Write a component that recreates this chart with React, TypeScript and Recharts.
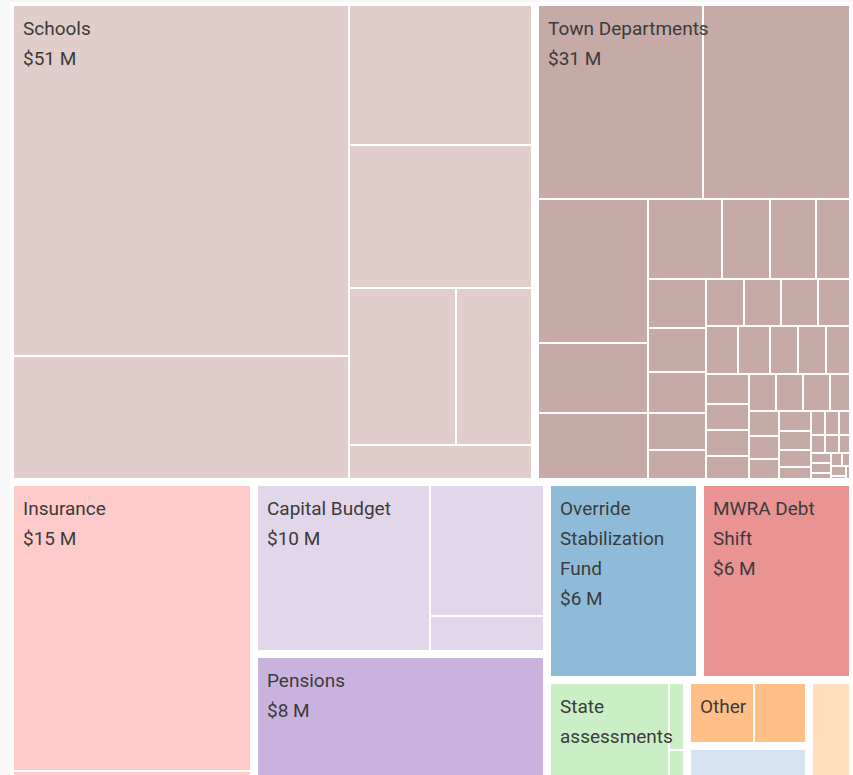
import { Treemap } from 'recharts'

// spending groups ($M), leaves, largest first
const schoolsItems = [24.3, 8.6, 5.4, 5.4, 3.4, 2.5, 1.4]
const townItems = [
  6.7, 6.0, 3.3, 1.6, 1.55, 1.2, 0.78, 0.74, 0.6, 0.58, 0.52, 0.48, 0.43, 0.38, 0.36, 0.35, 0.35, 0.33,
  0.31, 0.31, 0.27, 0.27, 0.26, 0.26, 0.23, 0.23, 0.22, 0.2, 0.2, 0.2, 0.17, 0.15, 0.14, 0.14, 0.13,
  0.12, 0.11, 0.1, 0.07, 0.07, 0.06, 0.05, 0.05, 0.05, 0.04, 0.04, 0.04, 0.03, 0.03, 0.03, 0.02, 0.02, 0.02,
]
const insuranceItems = [14, 1]
const capitalItems = [6.0, 3.1, 0.9]
const pensionsItems = [8]
const overrideItems = [6]
const mwraItems = [6]
const stateItems = [2.7, 0.25, 0.1, 0.05]
const otherItems = [0.88, 0.72]
const blueItems = [1.1]
const peachItems = [1.0]

const topGroups = [
  { name: 'Schools', color: '#c49c94', items: schoolsItems },
  { name: 'Town Departments', color: '#8c564b', items: townItems },
]

const bottomGroups = [
  { name: 'Insurance', color: '#ff9896', items: insuranceItems },
  { name: 'Capital Budget', color: '#c5b0d5', items: capitalItems },
  { name: 'Pensions', color: '#9467bd', items: pensionsItems },
  { name: 'Override Stabilization Fund', color: '#1f77b4', items: overrideItems },
  { name: 'MWRA Debt Shift', color: '#d62728', items: mwraItems },
  { name: 'State assessments', color: '#98df8a', items: stateItems },
  { name: 'Other', color: '#ff7f0e', items: otherItems },
  { name: '', color: '#aec7e8', items: blueItems },
  { name: '', color: '#ffbb78', items: peachItems },
]

const toTree = (groups: { name: string; color: string; items: number[] }[]) =>
  groups.map((g, gi) => ({
    name: g.name || `group-${gi}`,
    label: g.name,
    color: g.color,
    children: g.items.map((v, i) => ({ name: `${g.name || gi}-${i}`, size: v })),
  }))

const GAP = 3
const FONT_SIZE = 19
const LINE = 30

let ctx: CanvasRenderingContext2D | null = null
function textWidth(s: string) {
  if (!ctx) {
    ctx = document.createElement('canvas').getContext('2d')
    if (ctx) ctx.font = `${FONT_SIZE}px Roboto`
  }
  return ctx ? ctx.measureText(s).width : s.length * FONT_SIZE * 0.5
}

function wrap(text: string, maxW: number) {
  const lines: string[] = []
  let cur = ''
  for (const word of text.split(' ')) {
    const next = cur ? `${cur} ${word}` : word
    if (cur && textWidth(next) > maxW) {
      lines.push(cur)
      cur = word
    } else cur = next
  }
  if (cur) lines.push(cur)
  return lines
}

function GroupLabel({ node }: { node: any }) {
  if (!node.label) return null
  const left = node.x + GAP + 10
  const top = node.y + GAP
  const maxW = node.width - 2 * GAP - 20
  const tileH = node.height - 2 * GAP
  if (node.label.split(' ').some((w: string) => textWidth(w) > maxW)) return null
  const lines = [...wrap(node.label, maxW), `$${Math.round(node.value)} M`]
  const shown = lines.filter((_, i) => (i + 2) * LINE <= tileH)
  return (
    <text fontFamily="Roboto" fontSize={FONT_SIZE} fill="#3b3b3b">
      {shown.map((l, i) => (
        <tspan key={i} x={left} y={top + 30 + i * LINE}>
          {l}
        </tspan>
      ))}
    </text>
  )
}

function renderTile(props: any) {
  const { depth, x, y, width, height, root, index } = props
  if (depth !== 2 || !root) return null
  // clip each leaf to its group's tile, leaving white gaps between groups
  const gx0 = root.x + GAP
  const gy0 = root.y + GAP
  const gx1 = root.x + root.width - GAP
  const gy1 = root.y + root.height - GAP
  const x0 = Math.max(x, gx0)
  const y0 = Math.max(y, gy0)
  const w = Math.min(x + width, gx1) - x0
  const h = Math.min(y + height, gy1) - y0
  const isLast = index === root.children.length - 1
  return (
    <g>
      {w > 0 && h > 0 && (
        <rect x={x0} y={y0} width={w} height={h} fill={root.color} fillOpacity={0.5} stroke="#fff" strokeWidth={2} />
      )}
      {isLast && <GroupLabel node={root} />}
    </g>
  )
}

export default function App() {
  return (
    <div style={{ position: 'fixed', inset: 0, background: '#f8f8f8', overflow: 'hidden' }}>
      <div style={{ position: 'absolute', left: 10, top: 2, width: 843, height: 790, background: '#fff' }}>
        <Treemap
          width={843}
          height={480}
          data={toTree(topGroups)}
          dataKey="size"
          aspectRatio={1.45}
          isAnimationActive={false}
          content={renderTile}
        />
        <Treemap
          width={843}
          height={310}
          data={toTree(bottomGroups)}
          dataKey="size"
          aspectRatio={1.45}
          isAnimationActive={false}
          content={renderTile}
        />
      </div>
    </div>
  )
}
